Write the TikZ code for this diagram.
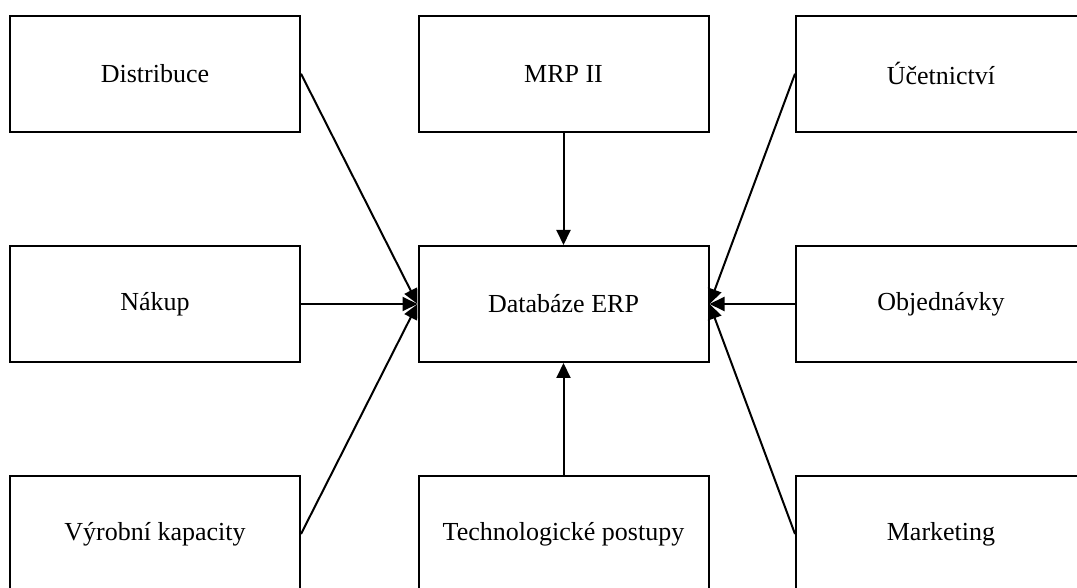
\documentclass[tikz,border=0pt]{standalone}
\usepackage{fontspec}
\setmainfont{Liberation Serif}
\usetikzlibrary{arrows.meta}
\tikzset{
  modul/.style={draw, line width=2pt, minimum width=290pt, minimum height=116pt,
    inner sep=0pt, font=\fontsize{26}{30}\selectfont},
  tok/.style={line width=2pt, -{Triangle[length=15pt,width=14pt]}}
}
\begin{document}
\begin{tikzpicture}[x=1pt,y=1pt]
\useasboundingbox (0,0) rectangle (1077,587);
% module boxes, three rows of three
\node[modul] (dist) at (155,513.25) {Distribuce};
\node[modul] (mrp)  at (563.5,513.25) {MRP II};
\node[modul] (ucet) at (941,513.25) {Účetnictví};
\node[modul] (nak)  at (155,283) {Nákup};
\node[modul] (db)   at (563.5,283) {Databáze ERP};
\node[modul] (obj)  at (941,283) {Objednávky};
\node[modul] (vyr)  at (155,53) {Výrobní kapacity};
\node[modul] (tech) at (563.5,53) {Technologické postupy};
\node[modul] (mark) at (941,53) {Marketing};
% every module feeds the central database
\draw[tok] (dist.east) -- (db.west);
\draw[tok] (nak.east)  -- (db.west);
\draw[tok] (vyr.east)  -- (db.west);
\draw[tok] (mrp.south) -- (db.north);
\draw[tok] (tech.north) -- (db.south);
\draw[tok] (ucet.west) -- (db.east);
\draw[tok] (obj.west)  -- (db.east);
\draw[tok] (mark.west) -- (db.east);
\end{tikzpicture}
\end{document}
